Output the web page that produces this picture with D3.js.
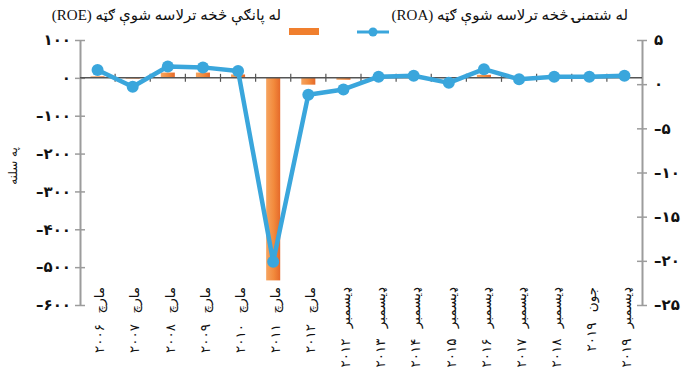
<!DOCTYPE html>
<html><head><meta charset="utf-8">
<script src="https://cdn.jsdelivr.net/npm/d3@7"></script>
<style>
html,body{margin:0;padding:0;background:#fff;}
svg{display:block;font-family:"Liberation Serif","DejaVu Sans",serif;}
</style></head>
<body><svg id="c" width="699" height="370"></svg>
<script>
const categories = ["مارچ ۲۰۰۶","مارچ ۲۰۰۷","مارچ ۲۰۰۸","مارچ ۲۰۰۹","مارچ ۲۰۱۰","مارچ ۲۰۱۱","مارچ ۲۰۱۲",
  "ډیسمبر ۲۰۱۲","ډیسمبر ۲۰۱۳","ډیسمبر ۲۰۱۴","ډیسمبر ۲۰۱۵","ډیسمبر ۲۰۱۶","ډیسمبر ۲۰۱۷","ډیسمبر ۲۰۱۸","جون ۲۰۱۹","ډیسمبر ۲۰۱۹"];
const roe = [4, -2, 14, 14, 9, -535, -18, -5, 2, 1, 1, 8, 1, 1, 1, 1];
const roa = [1.6, -0.3, 2.0, 1.9, 1.5, -20.1, -1.2, -0.6, 0.85, 0.95, 0.15, 1.7, 0.55, 0.85, 0.85, 0.95];
const leftTicks = [100, 0, -100, -200, -300, -400, -500, -600];
const rightTicks = [5, 0, -5, -10, -15, -20, -25];
const seriesNames = ["له پانګې څخه ترلاسه شوې ګټه (ROE)", "له شتمنۍ څخه ترلاسه شوې ګټه (ROA)"];
const yTitle = "په سلنه";

const fa = n => {
  const s = String(Math.abs(n)).replace(/\d/g, d => "۰۱۲۳۴۵۶۷۸۹"[d]);
  return (n < 0 ? "\u2013" : "") + s;
};

const svg = d3.select("#c");
const L = 80, R = 642, T = 40, B = 305;
const x = d3.scaleBand().domain(categories).range([L, R]).paddingInner(0.6).paddingOuter(0.3);
const xc = d3.scaleBand().domain(categories).range([L, R]);
const yL = d3.scaleLinear().domain([-600, 100]).range([B, T]);
const yR = d3.scaleLinear().domain([-25, 5]).range([B, T]);

const defs = svg.append("defs");
const g = defs.append("linearGradient").attr("id", "bg").attr("x1", 0).attr("x2", 1).attr("y1", 0).attr("y2", 0);
g.append("stop").attr("offset", "0%").attr("stop-color", "#f6a460");
g.append("stop").attr("offset", "55%").attr("stop-color", "#f28a3c");
g.append("stop").attr("offset", "100%").attr("stop-color", "#e5692a");

// axes
const axisColor = "#9c9c9c";
const la = svg.append("g").attr("transform", `translate(${L},0)`)
  .call(d3.axisLeft(yL).tickValues(leftTicks).tickFormat(fa).tickSize(0).tickPadding(9));
la.select(".domain").attr("stroke", axisColor).attr("stroke-width", 2);
la.selectAll(".tick").append("line").attr("x1", -5).attr("x2", 5).attr("stroke", axisColor).attr("stroke-width", 1.5);
la.selectAll(".tick text").attr("font-family", "DejaVu Sans").attr("font-size", 15).attr("font-weight", "bold").attr("letter-spacing", 1.5).attr("fill", "#111");

const ra = svg.append("g").attr("transform", `translate(${R},0)`)
  .call(d3.axisRight(yR).tickValues(rightTicks).tickFormat(fa).tickSize(0).tickPadding(12));
ra.select(".domain").attr("stroke", axisColor).attr("stroke-width", 2);
ra.selectAll(".tick").append("line").attr("x1", -5).attr("x2", 5).attr("stroke", axisColor).attr("stroke-width", 1.5);
ra.selectAll(".tick text").attr("font-family", "DejaVu Sans").attr("font-size", 15).attr("font-weight", "bold").attr("letter-spacing", 1.5).attr("fill", "#111");

// bars
svg.append("g").selectAll("rect").data(categories).join("rect")
  .attr("x", d => x(d))
  .attr("width", x.bandwidth())
  .attr("y", (d, i) => Math.min(yL(roe[i]), yL(0)))
  .attr("height", (d, i) => Math.abs(yL(roe[i]) - yL(0)))
  .attr("fill", "url(#bg)");

// zero line with category ticks
const y0 = yL(0);
svg.append("line").attr("x1", L).attr("x2", R).attr("y1", y0).attr("y2", y0)
  .attr("stroke", "#555").attr("stroke-width", 1.5);
svg.append("g").selectAll("line").data(categories.slice(1)).join("line")
  .attr("x1", d => xc(d)).attr("x2", d => xc(d))
  .attr("y1", y0 - 4).attr("y2", y0 + 4)
  .attr("stroke", "#555").attr("stroke-width", 1.2);

// line
const blue = "#3aa6dc";
const cx = (d) => xc(d) + xc.bandwidth() / 2;
svg.append("path").datum(categories)
  .attr("d", d3.line().x(d => cx(d)).y((d, i) => yR(roa[i])))
  .attr("fill", "none").attr("stroke", blue).attr("stroke-width", 4.5).attr("stroke-linejoin", "round");
svg.append("g").selectAll("circle").data(categories).join("circle")
  .attr("cx", d => cx(d)).attr("cy", (d, i) => yR(roa[i])).attr("r", 6).attr("fill", blue);

// x labels
svg.append("g").selectAll("text").data(categories).join("text")
  .attr("transform", d => `translate(${cx(d) + 2},287) rotate(-90)`)
  .attr("text-anchor", "end").attr("dy", "0.35em")
  .attr("font-family", "DejaVu Sans").attr("font-size", 13.5).attr("word-spacing", 6).attr("fill", "#111")
  .text(d => d);

// y title
svg.append("text").attr("transform", "translate(13,166) rotate(-90)")
  .attr("text-anchor", "middle").attr("dy", "0.35em").attr("font-family", "DejaVu Sans").attr("font-size", 12).attr("fill", "#111")
  .text(yTitle);

// legend
svg.append("rect").attr("x", 289).attr("y", 28).attr("width", 30).attr("height", 7).attr("fill", "#f07f2e");
svg.append("text").attr("x", 281).attr("y", 20).attr("direction", "rtl").attr("text-anchor", "start")
  .attr("font-size", 15).attr("fill", "#111").text(seriesNames[0]);
svg.append("line").attr("x1", 357).attr("x2", 389).attr("y1", 32).attr("y2", 32).attr("stroke", blue).attr("stroke-width", 3);
svg.append("circle").attr("cx", 373).attr("cy", 32).attr("r", 4.5).attr("fill", blue);
svg.append("text").attr("x", 628).attr("y", 20).attr("direction", "rtl").attr("text-anchor", "start")
  .attr("font-size", 15).attr("fill", "#111").text(seriesNames[1]);
</script></body></html>
